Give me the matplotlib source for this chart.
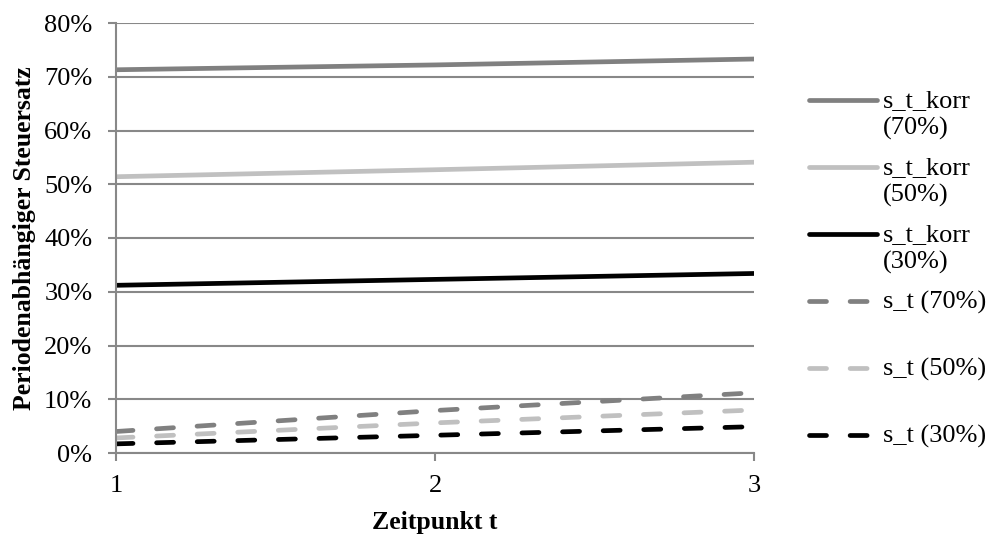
import matplotlib
matplotlib.use("Agg")
import matplotlib.pyplot as plt
from matplotlib.lines import Line2D
from matplotlib.ticker import FuncFormatter

t = [1, 2, 3]
korr70 = [0.713, 0.722, 0.733]
korr50 = [0.514, 0.527, 0.541]
korr30 = [0.312, 0.323, 0.334]
st70 = [0.040, 0.079, 0.112]
st50 = [0.028, 0.056, 0.080]
st30 = [0.017, 0.033, 0.049]

labels = ["s_t_korr\n(70%)", "s_t_korr\n(50%)", "s_t_korr\n(30%)",
          "s_t (70%)", "s_t (50%)", "s_t (30%)"]
series = [korr70, korr50, korr30, st70, st50, st30]
colors = ["#808080", "#c0c0c0", "#000000", "#808080", "#c0c0c0", "#000000"]
dashed = [False, False, False, True, True, True]

plt.rcParams['font.family'] = ['Liberation Serif', 'DejaVu Serif']
FS = 19
FSL = 18.5
W, H = 989, 538
fig = plt.figure(figsize=(W / 100, H / 100), dpi=100)
ax = fig.add_axes([116 / W, 1 - 453 / H, (754 - 116) / W, (453 - 23) / H])

lw = 3.4
for y, c, d in zip(series, colors, dashed):
    if d:
        ax.plot(t, y, color=c, lw=lw, linestyle=(0, (3.6, 5.0)),
                dash_capstyle='round', solid_capstyle='round')
    else:
        ax.plot(t, y, color=c, lw=lw, solid_capstyle='round')

ax.set_xlim(1, 3)
ax.set_ylim(0, 0.8)
ax.set_xticks(t)
ax.set_yticks([i / 10 for i in range(9)])
ax.yaxis.set_major_formatter(FuncFormatter(lambda v, p: f"{v*100:.0f}%"))
gc = "#888888"
ax.grid(axis='y', color=gc, lw=1.5)
ax.set_axisbelow(True)
for s in ['top', 'right']:
    ax.spines[s].set_visible(False)
for s in ['left', 'bottom']:
    ax.spines[s].set_color(gc)
    ax.spines[s].set_linewidth(1.5)
ax.tick_params(axis='y', length=6, width=1.5, color=gc, pad=11, labelsize=FS)
ax.tick_params(axis='x', length=6, width=1.5, color=gc, pad=10, labelsize=FS)
ax.set_xlabel("Zeitpunkt t", fontsize=FSL, fontweight='bold', labelpad=10)
ax.set_ylabel("Periodenabhängiger Steuersatz", fontsize=FSL, fontweight='bold', labelpad=6)

# legend drawn manually to match layout
ys = [100, 167, 234, 301, 368, 435]
for lab, c, d, yp in zip(labels, colors, dashed, ys):
    yf = 1 - yp / H
    ln = Line2D([809 / W, 877 / W], [yf, yf], transform=fig.transFigure,
                color=c, lw=lw, solid_capstyle='round', dash_capstyle='round',
                linestyle=(0, (3.6, 5.0)) if d else '-')
    fig.add_artist(ln)
    fig.text(883 / W, yf + 10 / H, lab, fontsize=FS, va='top', ha='left',
             linespacing=1.3)

fig.savefig("out.png", dpi=100)
